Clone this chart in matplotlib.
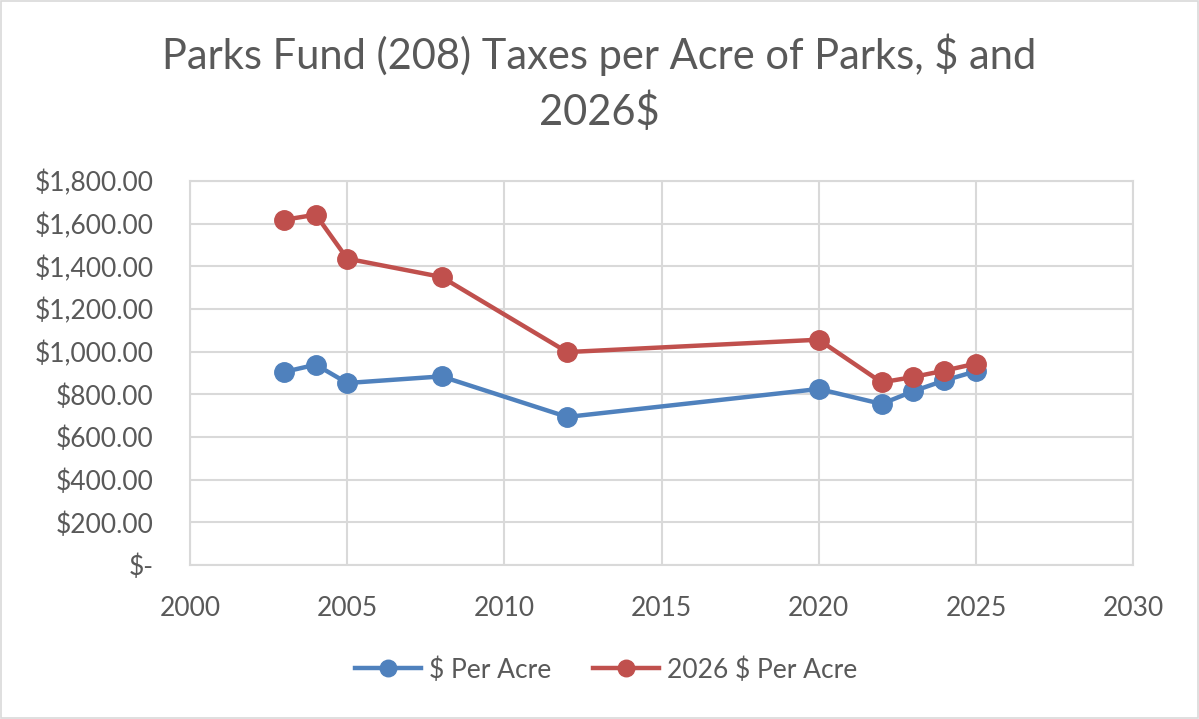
import matplotlib.pyplot as plt
from matplotlib.ticker import FuncFormatter

plt.rcParams['font.family'] = ['Lato', 'DejaVu Sans']

years = [2003, 2004, 2005, 2008, 2012, 2020, 2022, 2023, 2024, 2025]
per_acre = [905, 939, 853, 884, 694, 825, 755, 814, 865, 908]
per_acre_2026 = [1618, 1642, 1436, 1350, 998, 1056, 856, 881, 911, 944]

BLUE = "#4F81BD"
RED = "#C0504D"
TEXT = "#595959"
GRID = "#D9D9D9"


def money(v, pos):
    if v == 0:
        return "$-"
    return f"${v:,.2f}"


fig = plt.figure(figsize=(11.99, 7.19), dpi=100)
ax = fig.add_axes([0.1585, 0.2142, 0.7865, 0.5341])

ax.plot(years, per_acre, color=BLUE, lw=3.2, marker="o", ms=14,
        label="$ Per Acre")
ax.plot(years, per_acre_2026, color=RED, lw=3.2, marker="o", ms=14,
        label="2026 $ Per Acre")

ax.set_xlim(2000, 2030)
ax.set_ylim(0, 1800)
ax.set_xticks(range(2000, 2031, 5))
ax.set_yticks(range(0, 1801, 200))
ax.yaxis.set_major_formatter(FuncFormatter(money))
ax.grid(True, color=GRID, lw=1.5)
ax.set_axisbelow(True)
for s in ax.spines.values():
    s.set_color(GRID)
    s.set_linewidth(1.5)
ax.tick_params(length=0, labelsize=19, colors=TEXT)
ax.tick_params(axis="y", pad=26)
ax.tick_params(axis="x", pad=22)

fig.suptitle("Parks Fund (208) Taxes per Acre of Parks, $ and\n2026$",
             y=0.953, fontsize=30, color=TEXT, linespacing=1.45)

ax.legend(loc="center", bbox_to_anchor=(0.441, -0.273), ncol=2,
          frameon=False, fontsize=19, labelcolor=TEXT, handlelength=2.5,
          handletextpad=0.3, columnspacing=1.6, markerscale=0.85)

fig.patches.append(plt.Rectangle((0.001, 0.001), 0.998, 0.998,
                                 transform=fig.transFigure, fill=False,
                                 edgecolor=GRID, lw=1.2))

fig.savefig("out.png", dpi=100)
